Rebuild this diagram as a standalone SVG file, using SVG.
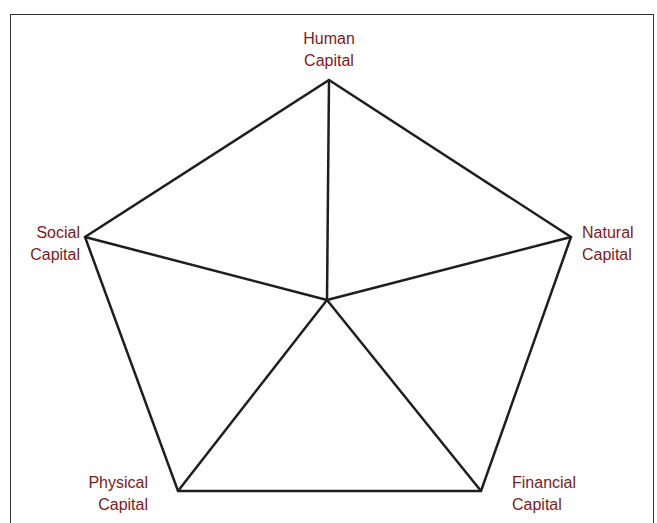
<svg xmlns="http://www.w3.org/2000/svg" width="657" height="523" viewBox="0 0 657 523">
<style>
.lbl{font-family:"Liberation Sans",Arial,sans-serif;font-size:16px;fill:#7a1c1c}
.edge{stroke:#1e1e1e;stroke-width:2.5;fill:none;stroke-linejoin:miter}
</style>
<rect x="0" y="0" width="657" height="523" fill="#fff"/>
<rect x="10.5" y="14.5" width="643" height="520" fill="none" stroke="#333" stroke-width="1"/>
<g id="connectors">
<polygon class="edge" points="329,80 571,237 481,491 178,491 85,237"/>
<line class="edge" x1="327" y1="300" x2="329" y2="80"/>
<line class="edge" x1="327" y1="300" x2="571" y2="237"/>
<line class="edge" x1="327" y1="300" x2="481" y2="491"/>
<line class="edge" x1="327" y1="300" x2="178" y2="491"/>
<line class="edge" x1="327" y1="300" x2="85" y2="237"/>
</g>
<g id="human"><text class="lbl" text-anchor="middle" x="329" y="44">Human</text><text class="lbl" text-anchor="middle" x="329" y="66">Capital</text></g>
<g id="social"><text class="lbl" text-anchor="end" x="80" y="238">Social</text><text class="lbl" text-anchor="end" x="80" y="260">Capital</text></g>
<g id="natural"><text class="lbl" x="582" y="238">Natural</text><text class="lbl" x="582" y="260">Capital</text></g>
<g id="physical"><text class="lbl" text-anchor="end" x="148" y="488">Physical</text><text class="lbl" text-anchor="end" x="148" y="510">Capital</text></g>
<g id="financial"><text class="lbl" x="512" y="488">Financial</text><text class="lbl" x="512" y="510">Capital</text></g>
</svg>
